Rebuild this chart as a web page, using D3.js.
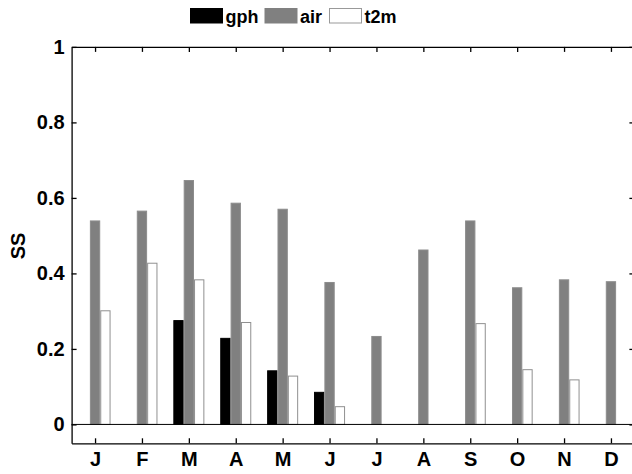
<!DOCTYPE html>
<html>
<head>
<meta charset="utf-8">
<script src="https://cdn.jsdelivr.net/npm/d3@7"></script>
<style>
  body { margin: 0; background: #fff; }
  text { font-family: "Liberation Sans", Arial, sans-serif; font-weight: bold; }
</style>
</head>
<body>
<script>
// months and series
const months = ["J", "F", "M", "A", "M", "J", "J", "A", "S", "O", "N", "D"];
const series = ["gph", "air", "t2m"];
const gph = [0, 0, 0.275, 0.228, 0.142, 0.085, 0, 0, 0, 0, 0, 0];
const air = [0.539, 0.565, 0.646, 0.586, 0.570, 0.376, 0.233, 0.462, 0.539, 0.362, 0.383, 0.378];
const t2m = [0.301, 0.427, 0.383, 0.270, 0.128, 0.047, 0, 0, 0.267, 0.145, 0.118, 0];
const yTicks = [0, 0.2, 0.4, 0.6, 0.8, 1];

const values = {gph: gph, air: air, t2m: t2m};
const fills = {gph: "#000", air: "#808080", t2m: "#fff"};
const strokes = {gph: "#000", air: "#8c8c8c", t2m: "#909090"};

const W = 632, H = 474;
const svg = d3.select("body").append("svg")
    .attr("width", W)
    .attr("height", H);

// x in month units (1..12), y in SS
const x = d3.scaleLinear().domain([0.5, 12.5]).range([71.6, 634.4]);
const y = d3.scaleLinear().domain([-0.05, 1]).range([443.3, 46.9]);
const sub = d3.scaleBand().domain(series).range([-0.32, 0.32]).paddingInner(0.1);

const rows = [];
months.forEach((m, i) => {
    series.forEach(s => rows.push({i: i + 1, s: s, v: values[s][i]}));
});

// bars
svg.append("g").selectAll("rect")
    .data(rows.filter(d => d.v > 0))
    .join("rect")
    .attr("x", d => x(d.i + sub(d.s)))
    .attr("width", x(sub.bandwidth()) - x(0))
    .attr("y", d => y(d.v))
    .attr("height", d => y(0) - y(d.v))
    .attr("fill", d => fills[d.s])
    .attr("stroke", d => strokes[d.s])
    .attr("stroke-width", 1);

// baseline at 0
svg.append("line")
    .attr("x1", x(0.5)).attr("x2", x(12.5))
    .attr("y1", y(0)).attr("y2", y(0))
    .attr("stroke", "#000").attr("stroke-width", 1);

// box axes, ticks pointing inward
const monthIdx = d3.range(1, 13);
const axBottom = svg.append("g")
    .attr("transform", "translate(0," + y.range()[0] + ")")
    .call(d3.axisBottom(x).tickValues(monthIdx).tickSizeInner(-5).tickSizeOuter(0)
        .tickFormat(d => months[d - 1]).tickPadding(9));
const axTop = svg.append("g")
    .attr("transform", "translate(0," + y.range()[1] + ")")
    .call(d3.axisTop(x).tickValues(monthIdx).tickSizeInner(-5).tickSizeOuter(0).tickFormat(""));
const axLeft = svg.append("g")
    .attr("transform", "translate(" + x.range()[0] + ",0)")
    .call(d3.axisLeft(y).tickValues(yTicks).tickSizeInner(-5).tickSizeOuter(0)
        .tickFormat(d3.format("")).tickPadding(7));
const axRight = svg.append("g")
    .attr("transform", "translate(" + x.range()[1] + ",0)")
    .call(d3.axisRight(y).tickValues(yTicks).tickSizeInner(-5).tickSizeOuter(0).tickFormat(""));

[axBottom, axTop, axLeft, axRight].forEach(g => {
    g.selectAll("path,line").attr("stroke", "#000").attr("stroke-width", 1.3);
    g.selectAll("text").attr("fill", "#000").style("font-size", "20px")
        .style("font-family", "'Liberation Sans', Arial, sans-serif").style("font-weight", "bold");
});
axBottom.selectAll("text").attr("dy", "0.71em");

// y label
svg.append("text")
    .attr("transform", "translate(25,246) rotate(-90)")
    .attr("text-anchor", "middle")
    .style("font-size", "20px")
    .text("SS");

// legend
const legend = svg.append("g");
const legX = [190.5, 265, 329.5];
series.forEach((s, k) => {
    legend.append("rect")
        .attr("x", legX[k]).attr("y", 8.5)
        .attr("width", 32).attr("height", 14.5)
        .attr("fill", fills[s])
        .attr("stroke", s === "t2m" ? "#999" : fills[s]);
    legend.append("text")
        .attr("x", legX[k] + 35).attr("y", 22.5)
        .style("font-size", "18px")
        .text(s);
});
</script>
</body>
</html>
